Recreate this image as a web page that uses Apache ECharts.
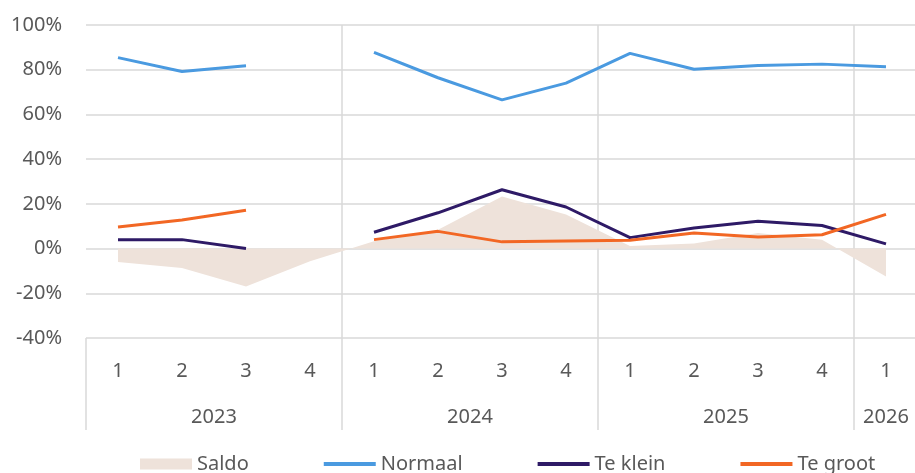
<!DOCTYPE html>
<html>
<head>
<meta charset="utf-8">
<script src="https://cdn.jsdelivr.net/npm/echarts@6/dist/echarts.min.js"></script>
<style>
  html, body { margin: 0; padding: 0; background: #fff; }
  #chart { width: 915px; height: 473px; }
</style>
</head>
<body>
<div id="chart"></div>
<script>
// kwartalen per jaar
var years = ["2023", "2024", "2025", "2026"];
var quartersPerYear = [4, 4, 4, 1];
var quarters = ["1", "2", "3", "4", "1", "2", "3", "4", "1", "2", "3", "4", "1"];

// percentages
var saldo = [-6, -8.7, -17, -5.7, 3.3, 8.4, 23.3, 15.2, 1.2, 2.3, 7, 4, -12.5];
var normaal = [85.4, 79.2, 81.8, null, 87.8, 76.4, 66.5, 74, 87.3, 80.2, 81.9, 82.5, 81.3];
var teKlein = [4, 4, 0, null, 7.3, 16, 26.3, 18.6, 4.9, 9.2, 12.2, 10.3, 2.1];
var teGroot = [9.7, 12.8, 17.1, null, 4, 7.7, 3, 3.4, 3.7, 7, 5.2, 6.2, 15.3];

var gridColor = "#d9d9d9";
var textColor = "#595959";
var font = "Noto Sans";
var lineIcon = "path://M0,0H52V4H0Z";

// grenzen tussen jaren (index van eerste kwartaal) en midden van elk jaar
var yearStarts = [];
var yearCenters = [];
var acc = 0;
quartersPerYear.forEach(function (n) {
  yearStarts.push(acc);
  yearCenters.push(acc + n / 2);
  acc += n;
});

var chart = echarts.init(document.getElementById("chart"));
chart.setOption({
  animation: false,
  grid: { left: 86, top: 25, right: -3, bottom: 135, outerBoundsMode: "none" },
  legend: {
    left: 135,
    top: 449,
    itemWidth: 52,
    itemHeight: 11,
    itemGap: 75,
    textStyle: { color: textColor, fontFamily: font, fontSize: 20 },
    data: [
      { name: "Saldo", icon: "rect" },
      { name: "Normaal", icon: lineIcon },
      { name: "Te klein", icon: lineIcon },
      { name: "Te groot", icon: lineIcon },
    ],
  },
  xAxis: [
    {
      type: "category",
      data: quarters,
      boundaryGap: true,
      axisLine: { show: false, onZero: false },
      axisTick: {
        show: true,
        length: 92,
        interval: function (i) {
          return yearStarts.indexOf(i) >= 0;
        },
        lineStyle: { color: gridColor, width: 1.5 },
      },
      splitLine: {
        show: true,
        interval: function (i) {
          return i > 0 && yearStarts.indexOf(i) >= 0;
        },
        lineStyle: { color: gridColor, width: 1.5 },
      },
      axisLabel: {
        interval: 0,
        margin: 23,
        color: textColor,
        fontFamily: font,
        fontSize: 20,
      },
    },
    {
      type: "value",
      position: "bottom",
      min: 0,
      max: quarters.length,
      interval: 0.5,
      axisLine: { show: false, onZero: false },
      axisTick: { show: false },
      splitLine: { show: false },
      axisLabel: {
        margin: 69,
        color: textColor,
        fontFamily: font,
        fontSize: 20,
        showMinLabel: true,
        showMaxLabel: true,
        formatter: function (v) {
          var k = yearCenters.indexOf(v);
          return k >= 0 ? years[k] : "";
        },
      },
    },
  ],
  yAxis: {
    type: "value",
    min: -40,
    max: 100,
    interval: 20,
    axisLine: { show: false },
    axisTick: { show: false },
    splitLine: { lineStyle: { color: gridColor, width: 1.5 } },
    axisLabel: {
      margin: 24,
      color: textColor,
      fontFamily: font,
      fontSize: 20,
      formatter: "{value}%",
    },
  },
  series: [
    {
      name: "Saldo",
      type: "line",
      data: saldo,
      symbol: "none",
      lineStyle: { width: 0 },
      itemStyle: { color: "#eee2da" },
      areaStyle: { color: "#eee2da", opacity: 1 },
      z: 1,
    },
    {
      name: "Normaal",
      type: "line",
      data: normaal,
      symbol: "none",
      lineStyle: { width: 3, color: "#4a9ae0" },
      itemStyle: { color: "#4a9ae0" },
      z: 3,
    },
    {
      name: "Te klein",
      type: "line",
      data: teKlein,
      symbol: "none",
      lineStyle: { width: 3, color: "#2e1a66" },
      itemStyle: { color: "#2e1a66" },
      z: 3,
    },
    {
      name: "Te groot",
      type: "line",
      data: teGroot,
      symbol: "none",
      lineStyle: { width: 3, color: "#f26724" },
      itemStyle: { color: "#f26724" },
      z: 4,
    },
  ],
});
</script>
</body>
</html>
